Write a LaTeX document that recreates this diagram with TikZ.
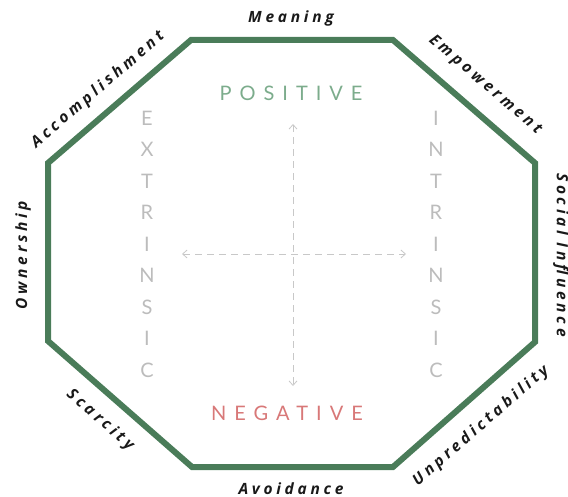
\documentclass[tikz,border=0pt]{standalone}
\usepackage{fontspec}
\usetikzlibrary{arrows.meta}
\newfontfamily\edgefont[LetterSpace=24]{Open Sans}
\newfontfamily\axisfont[LetterSpace=40]{Lato}
\newfontfamily\sidefont{Lato}
\definecolor{octgreen}{RGB}{74,124,89}
\definecolor{posgreen}{RGB}{124,172,140}
\definecolor{negred}{RGB}{216,120,120}
\definecolor{lettergray}{RGB}{188,188,188}
\definecolor{arrowgray}{RGB}{200,200,200}
\begin{document}
\begin{tikzpicture}[x=1pt,y=-1pt,
    edge/.style={font=\edgefont\fontsize{15.5}{17}\selectfont\bfseries\itshape,text=black!90,inner sep=0pt},
    axis/.style={font=\axisfont\fontsize{20}{24}\selectfont,inner sep=1pt},
    side/.style={font=\sidefont\fontsize{20}{24}\selectfont,text=lettergray,inner sep=1pt},
    guide/.style={arrowgray,thick,dashed,dash pattern=on 7pt off 5pt,{Straight Barb[length=4.5pt,width=8pt]}-{Straight Barb[length=4.5pt,width=8pt]}}]
    \useasboundingbox (0,0) rectangle (568,497);

    % octagon corners
    \coordinate (c1) at (191,40);
    \coordinate (c2) at (393,40);
    \coordinate (c3) at (535,163);
    \coordinate (c4) at (535,342);
    \coordinate (c5) at (393,467);
    \coordinate (c6) at (192,467);
    \coordinate (c7) at (48,341);
    \coordinate (c8) at (48,163);
    \draw[octgreen,line width=6pt,line join=miter] (c1) -- (c2) -- (c3) -- (c4) -- (c5) -- (c6) -- (c7) -- (c8) -- cycle;

    \node[edge] (meaning) at (291,18) {Meaning};
    \node[edge,rotate=-40.7] (empower) at (485,85) {Empowerment};
    \node[edge,rotate=-90] (social) at (561,255) {Social Influence};
    \node[edge,rotate=41] (unpred) at (481,426) {Unpredictability};
    \node[edge,anchor=base,text depth=0pt] (avoid) at (291,494.5) {Avoidance};
    \node[edge,rotate=-41] (scarce) at (100,420) {Scarcity};
    \node[edge,rotate=90] (owner) at (23,255) {Ownership};
    \node[edge,rotate=40.7] (accomp) at (98,90) {Accomplishment};

    \node[axis,text=posgreen] (pos) at (291,93) {POSITIVE};
    \node[axis,text=negred] (neg) at (287,413) {NEGATIVE};

    \foreach \l [count=\i] in {E,X,T,R,I,N,S,I,C}
        \node[side] (ext\i) at (147,118+31.5*\i-31.5) {\l};
    \foreach \l [count=\i] in {I,N,T,R,I,N,S,I,C}
        \node[side] (int\i) at (436,118+31.5*\i-31.5) {\l};

    \coordinate (top) at (293,124);
    \coordinate (bot) at (293,386);
    \coordinate (lft) at (182,254);
    \coordinate (rgt) at (406,254);
    \draw[guide] (top) -- (bot);
    \draw[guide] (lft) -- (rgt);
\end{tikzpicture}
\end{document}
